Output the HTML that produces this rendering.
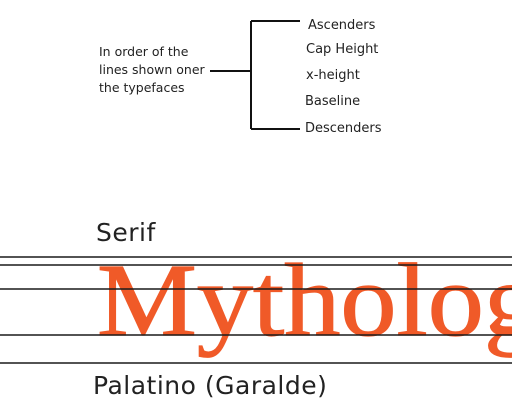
<!DOCTYPE html>
<html><head><meta charset="utf-8"><style>
html,body{margin:0;padding:0;background:#fff;width:512px;height:409px;overflow:hidden}
svg{display:block}
text{font-family:"DejaVu Sans","Liberation Sans",sans-serif;fill:#222}
</style></head><body>
<svg width="512" height="409" viewBox="0 0 512 409">
<g>
<text x="99" y="56" font-size="12.5">In order of the</text>
<text x="99" y="74" font-size="12.5">lines shown oner</text>
<text x="99" y="92" font-size="12.5">the typefaces</text>
<path d="M210 71H251M251 21V129M251 21H300M251 129H300" stroke="#111" stroke-width="2" fill="none"/>
<text x="308" y="29" font-size="13">Ascenders</text>
<text x="306" y="53" font-size="13">Cap Height</text>
<text x="306" y="79" font-size="13">x-height</text>
<text x="305" y="105" font-size="13">Baseline</text>
<text x="305" y="132" font-size="13">Descenders</text>
</g>
<text x="96" y="241" font-size="25" letter-spacing="0.5">Serif</text>
<text x="0" y="335" font-size="104" transform="translate(97 0) scale(1.08 1)" style="font-family:'Liberation Serif',serif;fill:#f05a28;stroke:#f05a28;stroke-width:1.2">Mytholog</text>
<g stroke="#1a1a1a" stroke-width="1.6">
<line x1="0" x2="512" y1="257" y2="257"/>
<line x1="0" x2="512" y1="265" y2="265"/>
<line x1="0" x2="512" y1="289" y2="289"/>
<line x1="0" x2="512" y1="335" y2="335"/>
<line x1="0" x2="512" y1="363" y2="363"/>
</g>
<text x="93" y="394" font-size="25" letter-spacing="0.5">Palatino (Garalde)</text>
</svg>
</body></html>
